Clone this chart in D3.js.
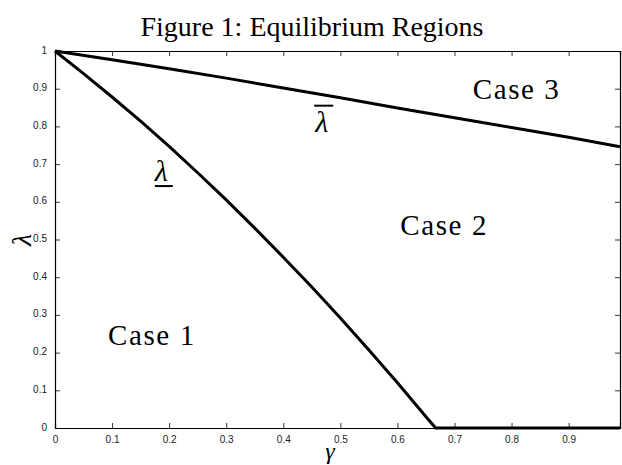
<!DOCTYPE html>
<html>
<head>
<meta charset="utf-8">
<script src="https://cdn.jsdelivr.net/npm/d3@7"></script>
<style>
  body { margin: 0; background: #fff; }
  svg { display: block; }
</style>
</head>
<body>
<svg width="622" height="465"></svg>
<script>
// gamma on x, lambda on y
var lowerGamma  = [0, 0.05, 0.1, 0.15, 0.2, 0.25, 0.3, 0.35, 0.4, 0.45, 0.5, 0.55, 0.6, 0.65, 0.667, 0.8, 0.99];
var lowerLambda = [1, 0.94, 0.878, 0.814, 0.747, 0.677, 0.605, 0.53, 0.453, 0.374, 0.292, 0.207, 0.12, 0.03, 0, 0, 0];

var upperGamma  = [0, 0.1, 0.2, 0.3, 0.4, 0.5, 0.6, 0.7, 0.8, 0.9, 0.99];
var upperLambda = [1, 0.977, 0.953, 0.928, 0.902, 0.876, 0.849, 0.823, 0.797, 0.771, 0.746];

var xTicks = [0, 0.1, 0.2, 0.3, 0.4, 0.5, 0.6, 0.7, 0.8, 0.9];
var yTicks = [0, 0.1, 0.2, 0.3, 0.4, 0.5, 0.6, 0.7, 0.8, 0.9, 1];

var caseLabels = [
  {text: "Case 1", g: 0.093, l: 0.219},
  {text: "Case 2", g: 0.605, l: 0.512},
  {text: "Case 3", g: 0.732, l: 0.873}
];

var svg = d3.select("svg");
var margin = {top: 51, right: 2, bottom: 37, left: 55};
var width = 622 - margin.left - margin.right;
var height = 465 - margin.top - margin.bottom;
var g = svg.append("g").attr("transform", "translate(" + margin.left + "," + margin.top + ")");

var x = d3.scaleLinear().domain([0, 0.99]).range([0, width]);
var y = d3.scaleLinear().domain([0, 1]).range([height, 0]);

var fmt = function(d) { return d === 0 ? "0" : d === 1 ? "1" : d3.format(".1f")(d); };

// axes, ticks pointing inward like matlab
var tickFont = "Liberation Sans, Arial, sans-serif";

var xAx = g.append("g")
    .attr("transform", "translate(0," + height + ")")
    .call(d3.axisBottom(x).tickValues(xTicks).tickSize(-5).tickPadding(8).tickFormat(fmt));
var xTop = g.append("g")
    .call(d3.axisTop(x).tickValues(xTicks).tickSize(-5).tickFormat(""));
var yAx = g.append("g")
    .call(d3.axisLeft(y).tickValues(yTicks).tickSize(-5).tickPadding(8).tickFormat(fmt));
var yRight = g.append("g")
    .attr("transform", "translate(" + width + ",0)")
    .call(d3.axisRight(y).tickValues(yTicks).tickSize(-5).tickFormat(""));

[xAx, xTop, yAx, yRight].forEach(function(a) {
  a.select(".domain").attr("stroke", "#000").attr("stroke-width", 1.2);
  a.selectAll(".tick line").attr("stroke", "#000").attr("stroke-width", 0.8);
  a.selectAll("text").attr("font-family", tickFont).attr("font-size", 10).attr("fill", "#222");
});
yAx.selectAll("text").attr("dy", "0.2em");

var line = d3.line()
    .x(function(d) { return x(d[0]); })
    .y(function(d) { return y(d[1]); });

g.append("path")
    .datum(d3.zip(lowerGamma, lowerLambda))
    .attr("fill", "none")
    .attr("stroke", "#000")
    .attr("stroke-width", 3)
    .attr("stroke-linejoin", "round")
    .attr("d", line);

g.append("path")
    .datum(d3.zip(upperGamma, upperLambda))
    .attr("fill", "none")
    .attr("stroke", "#000")
    .attr("stroke-width", 3)
    .attr("stroke-linejoin", "round")
    .attr("d", line);

var serif = "Liberation Serif, Times New Roman, serif";

// region labels
g.selectAll(".caselab")
    .data(caseLabels)
    .enter().append("text")
    .attr("class", "caselab")
    .attr("x", function(d) { return x(d.g); })
    .attr("y", function(d) { return y(d.l); })
    .attr("font-family", serif)
    .attr("font-size", 29)
    .attr("letter-spacing", 1.6)
    .text(function(d) { return d.text; });

// underline lambda
var lx = x(0.175), ly = y(0.655);
g.append("text")
    .attr("x", lx).attr("y", ly)
    .attr("font-family", serif).attr("font-style", "italic").attr("font-size", 30)
    .text("λ");
g.append("line")
    .attr("x1", lx).attr("x2", lx + 18)
    .attr("y1", ly + 5).attr("y2", ly + 5)
    .attr("stroke", "#000").attr("stroke-width", 2);

// overline lambda
var ox = x(0.456), oy = y(0.786);
g.append("text")
    .attr("x", ox).attr("y", oy)
    .attr("font-family", serif).attr("font-style", "italic").attr("font-size", 30)
    .text("λ");
g.append("line")
    .attr("x1", ox - 1).attr("x2", ox + 18)
    .attr("y1", oy - 26).attr("y2", oy - 26)
    .attr("stroke", "#000").attr("stroke-width", 2);

// title
svg.append("text")
    .attr("x", 312).attr("y", 36)
    .attr("text-anchor", "middle")
    .attr("font-family", serif)
    .attr("font-size", 28)
    .text("Figure 1: Equilibrium Regions");

// axis labels
svg.append("text")
    .attr("x", 330).attr("y", 459)
    .attr("text-anchor", "middle")
    .attr("font-family", serif).attr("font-style", "italic")
    .attr("font-size", 24)
    .text("γ");

svg.append("text")
    .attr("transform", "translate(31,240) rotate(-90)")
    .attr("text-anchor", "middle")
    .attr("font-family", serif).attr("font-style", "italic")
    .attr("font-size", 28)
    .text("λ");
</script>
</body>
</html>
